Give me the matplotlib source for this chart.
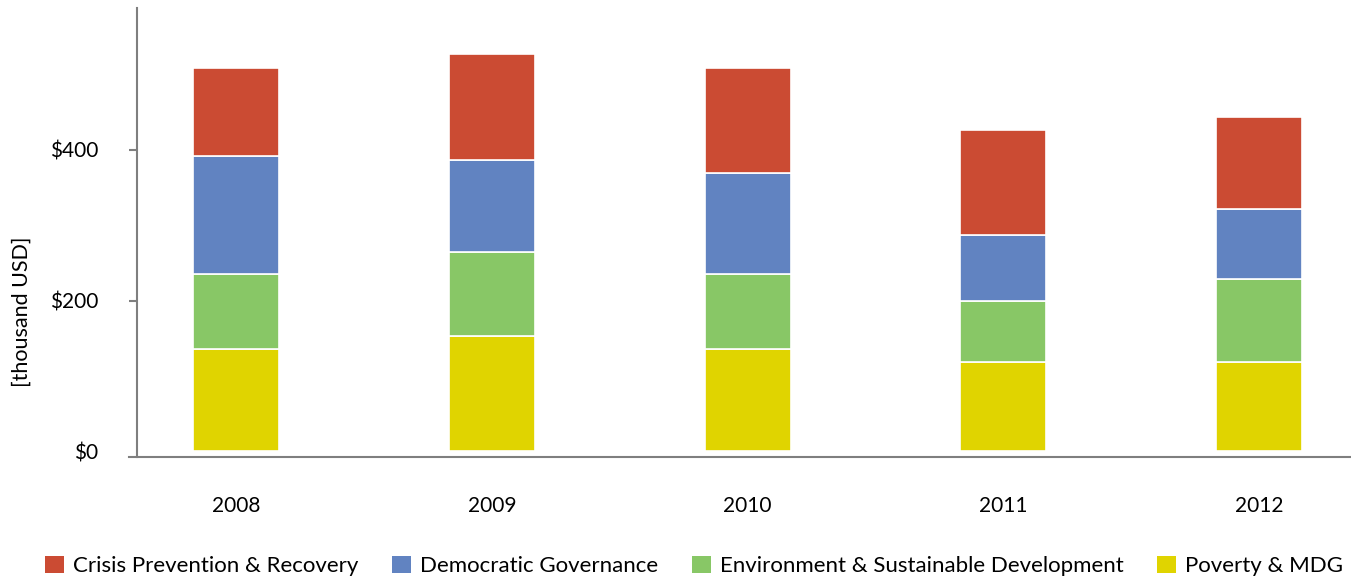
import matplotlib.pyplot as plt
from matplotlib.patches import Patch
from matplotlib.ticker import FuncFormatter
import numpy as np

plt.rcParams['font.family'] = ['Lato', 'DejaVu Sans']

# Data (thousand USD)
years = ['2008', '2009', '2010', '2011', '2012']
poverty = [136, 153, 136, 118, 118]
environment = [99, 111, 99, 82, 111]
governance = [157, 122, 134, 87, 93]
crisis = [116, 141, 139, 139, 122]

series = [
    ('Poverty & MDG', poverty, '#E0D400'),
    ('Environment & Sustainable Development', environment, '#88C766'),
    ('Democratic Governance', governance, '#6183C1'),
    ('Crisis Prevention & Recovery', crisis, '#CB4B33'),
]

fig = plt.figure(figsize=(13.51, 5.8), dpi=100)
ax = fig.add_axes([0.1014, 0.2116, 0.8986, 0.7746])

x = np.arange(len(years))
bottom = np.zeros(len(years))
for name, vals, color in series:
    ax.bar(x, vals, width=0.336, bottom=bottom, color=color,
           edgecolor='white', linewidth=1.2, label=name)
    bottom += np.array(vals)

ax.set_xlim(-0.389, 4.36)
ax.set_ylim(-7.7, 588)

# axes styling
for s in ['top', 'right']:
    ax.spines[s].set_visible(False)
for s in ['left', 'bottom']:
    ax.spines[s].set_color('#7f7f7f')
    ax.spines[s].set_linewidth(1.5)
ax.spines['bottom'].set_bounds(-0.389 - 8 / 255.7, 4.36)

ax.set_xticks(x)
ax.set_xticklabels(years)
ax.tick_params(axis='x', length=0, pad=28, labelsize=15)
ax.set_yticks([0, 200, 400])
ax.yaxis.set_major_formatter(FuncFormatter(lambda v, p: '$%d' % v))
ax.tick_params(axis='y', length=5.8, width=1.5, color='#7f7f7f', pad=22, labelsize=15)
ax.yaxis.get_major_ticks()[0].tick1line.set_visible(False)

fig.text(22 / 1351, 1 - 312 / 580, '[thousand USD]', rotation=90,
         ha='center', va='center', fontsize=15.5)

# legend in the order shown in the reference
handles = [Patch(facecolor=c, edgecolor='none', label=n) for n, v, c in series[::-1]]
fig.legend(handles=handles, loc='center left', bbox_to_anchor=(45 / 1351, 1 - 566 / 580),
           ncol=4, frameon=False, fontsize=16, borderaxespad=0, borderpad=0,
           handlelength=0.85, handleheight=0.85, handletextpad=0.42, columnspacing=1.5)

fig.savefig('out.png', dpi=100)
